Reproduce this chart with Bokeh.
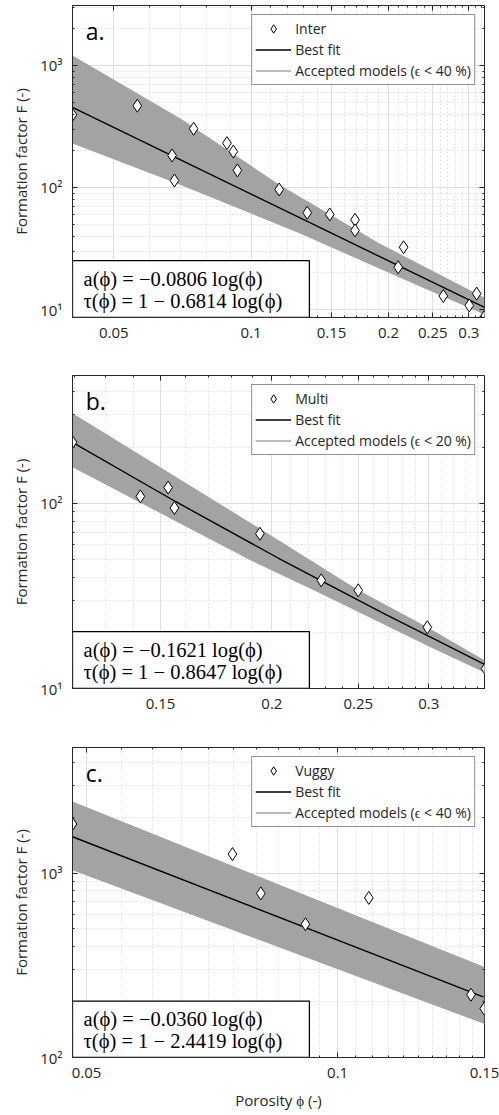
import numpy as np
from bokeh.plotting import figure
from bokeh.models import (Range1d, FixedTicker, CustomJSTickFormatter, NumeralTickFormatter,
                          LogAxis, Legend, LegendItem, Label, BoxAnnotation)
from bokeh.layouts import column
from bokeh.embed import file_html
from bokeh.resources import INLINE

# ---------------- data ----------------
# Panel a: Inter
a_phi = [0.0406, 0.0563, 0.0671, 0.0679, 0.0748, 0.0885, 0.0914, 0.0933, 0.1152, 0.1327,
         0.1487, 0.1689, 0.1689, 0.2158, 0.2100, 0.2637, 0.3006, 0.3120, 0.3240]
a_F = [394, 468, 183, 114, 303, 231, 197, 138, 96.3, 62.1,
       60.1, 54.3, 44.5, 32.4, 22.2, 12.9, 10.8, 13.5, 8.65]
a_fit_phi = [0.0406, 0.3246]
a_fit_F = [453, 10.4]
a_up_phi = [0.0406, 0.0700, 0.1151, 0.1912, 0.3246]
a_up_F = [1208, 368, 105.8, 34.8, 12.5]
a_lo_phi = [0.0406, 0.0679, 0.1279, 0.2114, 0.3246]
a_lo_F = [229.6, 109.9, 42.0, 18.3, 9.1]

# Panel b: Multi
b_phi = [0.1195, 0.1424, 0.1530, 0.1555, 0.1939, 0.2272, 0.2500, 0.2988, 0.3473]
b_F = [214, 109, 121.7, 94.4, 68.5, 38.4, 33.9, 21.4, 12.8]
b_fit_phi = [0.1195, 0.1559, 0.2035, 0.2655, 0.3464]
b_fit_F = [213.6, 102.3, 50.5, 25.8, 13.5]
b_up_phi = [0.1195, 0.1937, 0.2502, 0.2990, 0.3464]
b_up_F = [306, 73.3, 33.9, 21.4, 14.2]
b_lo_phi = [0.1195, 0.1892, 0.2268, 0.3013, 0.3464]
b_lo_F = [156.7, 49.2, 32.6, 16.7, 12.2]

# Panel c: Vuggy
c_phi = [0.0481, 0.0748, 0.0809, 0.1090, 0.0915, 0.1445, 0.1499]
c_F = [1845, 1268, 776, 734, 528, 219, 184]
c_fit_phi = [0.0481, 0.1495]
c_fit_F = [1575, 213]
c_up_phi = [0.0481, 0.1500]
c_up_F = [2444, 310]
c_lo_phi = [0.0481, 0.1500]
c_lo_F = [1038, 152]

# tick positions
a_xticks = [0.05, 0.1, 0.15, 0.2, 0.25, 0.3]
a_xminor = [round(0.01 * k, 2) for k in range(5, 33)]
b_xticks = [0.15, 0.2, 0.25, 0.3]
b_xminor = [round(0.01 * k, 2) for k in range(12, 35)]
c_xticks = [0.05, 0.1, 0.15]
c_xminor = [round(0.005 * k, 3) for k in range(10, 31)]
y_major = [10, 100, 1000]
y_minor = [m * 10 ** d for d in (1, 2, 3) for m in range(2, 10)]

TXT = "#262626"
FONT = "Open Sans"


def fx(r, f):
    return r.start * (r.end / r.start) ** f


def panel(phi, F, fit_phi, fit_F, up_phi, up_F, lo_phi, lo_F, xr, yr, xticks, xminor,
          name, eps, letter, eq1, eq2, fh, top, bottom, xlabel=None):
    p = figure(frame_width=412, frame_height=fh, x_axis_type="log", y_axis_type="log",
               x_range=Range1d(*xr), y_range=Range1d(*yr), output_backend="svg",
               toolbar_location=None, min_border_left=72, min_border_right=15,
               min_border_top=top, min_border_bottom=bottom)
    p.outline_line_color = TXT
    p.outline_line_width = 1
    p.background_fill_color = "white"

    xt = FixedTicker(ticks=xticks, minor_ticks=xminor)
    yt = FixedTicker(ticks=y_major, minor_ticks=y_minor)
    p.xaxis.ticker = xt
    p.yaxis.ticker = yt
    p.xgrid.ticker = xt
    p.ygrid.ticker = yt
    p.xaxis.formatter = NumeralTickFormatter(format="0.[00]")
    p.yaxis.formatter = CustomJSTickFormatter(
        code="const m = {10: '10¹', 100: '10²', 1000: '10³'}; return m[Math.round(tick)] || '';")

    for ax in (p.xaxis[0], p.yaxis[0]):
        ax.axis_line_color = TXT
        ax.major_tick_in = 5
        ax.major_tick_out = 0
        ax.minor_tick_in = 2
        ax.minor_tick_out = 0
        ax.major_tick_line_color = TXT
        ax.minor_tick_line_color = TXT
        ax.major_label_text_font = FONT
        ax.major_label_text_font_size = "15px"
        ax.major_label_text_color = TXT
        ax.axis_label_text_font = FONT
        ax.axis_label_text_font_size = "15px"
        ax.axis_label_text_font_style = "normal"
        ax.axis_label_text_color = TXT
    p.xaxis.major_label_standoff = 10
    p.yaxis.major_label_standoff = 10
    p.yaxis.axis_label = "Formation factor F (-)"
    p.yaxis.axis_label_standoff = 6
    if xlabel:
        p.xaxis.axis_label = xlabel
        p.xaxis.axis_label_standoff = 9

    for loc, tk in (("right", yt), ("above", xt)):
        ax = LogAxis(ticker=tk, formatter=CustomJSTickFormatter(code="return '';"),
                     major_tick_in=5, major_tick_out=0, minor_tick_in=2, minor_tick_out=0,
                     major_tick_line_color=TXT, minor_tick_line_color=TXT,
                     axis_line_color=None, major_label_standoff=0,
                     major_label_text_font_size="1px")
        p.add_layout(ax, loc)

    p.xgrid.grid_line_color = "#dedede"
    p.ygrid.grid_line_color = "#dedede"
    p.xgrid.minor_grid_line_color = "#e2e2e2"
    p.ygrid.minor_grid_line_color = "#e2e2e2"
    p.xgrid.minor_grid_line_dash = "2 2"
    p.ygrid.minor_grid_line_dash = "2 2"

    p.patch(x=up_phi + lo_phi[::-1], y=up_F + lo_F[::-1], fill_color="#a3a3a3", line_color=None)
    fit = p.line(fit_phi, fit_F, line_color="black", line_width=1.4)
    pts = p.scatter(phi, F, marker="diamond", size=13, fill_color="white",
                    line_color="black", line_width=1)
    # legend-only line for the accepted-models band (NaN data draws nothing in the plot)
    band = p.line(np.array([np.nan]), np.array([np.nan]), line_color="#bdbdbd", line_width=2)

    legend = Legend(items=[LegendItem(label=name, renderers=[pts]),
                           LegendItem(label="Best fit", renderers=[fit]),
                           LegendItem(label="Accepted models (ϵ < %d %%)" % eps, renderers=[band])],
                    location="top_right", margin=9, padding=3, spacing=0,
                    glyph_width=36, glyph_height=21, label_height=21, label_standoff=4,
                    label_text_font=FONT, label_text_font_size="14px",
                    label_text_color=TXT, border_line_color=TXT, border_line_width=1,
                    background_fill_alpha=1)
    p.add_layout(legend, "center")

    xrg, yrg = p.x_range, p.y_range
    p.add_layout(Label(x=fx(xrg, 0.032), y=fx(yrg, 0.917), text=letter,
                       text_font=FONT, text_font_size="23px", text_color="black",
                       text_baseline="middle", text_align="left"))
    p.add_layout(BoxAnnotation(left=fx(xrg, 0.0), right=fx(xrg, 0.575),
                               bottom=fx(yrg, 0.0), top=fx(yrg, 0.182),
                               fill_color="white", fill_alpha=1, line_color="black",
                               line_width=1.3, line_alpha=1))
    for txt, fy in ((eq1, 0.123), (eq2, 0.053)):
        p.add_layout(Label(x=fx(xrg, 0.027), y=fx(yrg, fy), text=txt,
                           text_font="Liberation Serif", text_font_size="20.5px",
                           text_color="black", text_baseline="middle", text_align="left"))
    return p


pa = panel(a_phi, a_F, a_fit_phi, a_fit_F, a_up_phi, a_up_F, a_lo_phi, a_lo_F,
           (0.0406, 0.3246), (8.6, 3100), a_xticks, a_xminor, "Inter", 40, "a.",
           "a(ϕ) = −0.0806 log(ϕ)", "τ(ϕ) = 1 − 0.6814 log(ϕ)", 312, 5, 28)
pb = panel(b_phi, b_F, b_fit_phi, b_fit_F, b_up_phi, b_up_F, b_lo_phi, b_lo_F,
           (0.1195, 0.3464), (10, 490), b_xticks, b_xminor, "Multi", 20, "b.",
           "a(ϕ) = −0.1621 log(ϕ)", "τ(ϕ) = 1 − 0.8647 log(ϕ)", 313, 30, 28)
pc = panel(c_phi, c_F, c_fit_phi, c_fit_F, c_up_phi, c_up_F, c_lo_phi, c_lo_F,
           (0.0481, 0.1500), (100, 4800), c_xticks, c_xminor, "Vuggy", 40, "c.",
           "a(ϕ) = −0.0360 log(ϕ)", "τ(ϕ) = 1 − 2.4419 log(ϕ)", 310, 31, 56,
           xlabel="Porosity ϕ (-)")

layout = column(pa, pb, pc)
with open("out.html", "w", encoding="utf-8") as fh:
    fh.write(file_html(layout, INLINE))
